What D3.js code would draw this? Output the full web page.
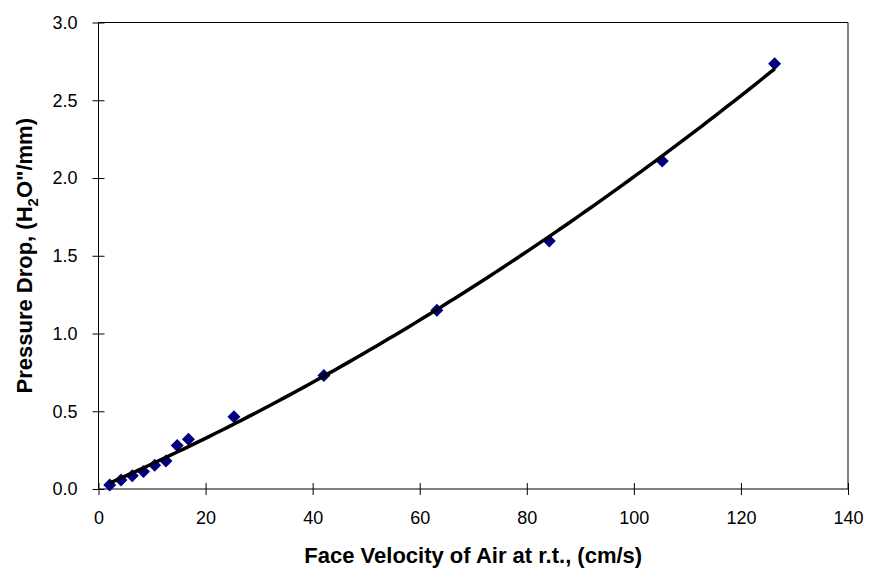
<!DOCTYPE html>
<html>
<head>
<meta charset="utf-8">
<title>Pressure drop vs face velocity</title>
<script src="https://d3js.org/d3.v7.min.js"></script>
<style>
  body { margin: 0; background: #fff; }
  text { font-family: "Liberation Sans", Arial, sans-serif; fill: #000; }
</style>
</head>
<body>
<div id="chart"></div>
<script>
// measured points (face velocity cm/s, pressure drop H2O"/mm)
var velocity = [2.1, 4.2, 6.3, 8.4, 10.5, 12.6, 14.7, 16.8, 25.3, 42.1, 63.2, 84.2, 105.3, 126.3];
var pressure = [0.025, 0.058, 0.085, 0.113, 0.152, 0.18, 0.28, 0.32, 0.465, 0.73, 1.15, 1.595, 2.11, 2.735];

var xTicks = [0, 20, 40, 60, 80, 100, 120, 140];
var yTicks = [0, 0.5, 1.0, 1.5, 2.0, 2.5, 3.0];

var width = 869, height = 571;
var margin = {left: 98.5, right: 21, top: 22.5, bottom: 82};

var svg = d3.select("#chart").append("svg")
  .attr("width", width)
  .attr("height", height);

var x = d3.scaleLinear().domain([0, 140]).range([margin.left, width - margin.right]);
var y = d3.scaleLinear().domain([0, 3]).range([height - margin.bottom, margin.top]);

// plot frame (top and right)
svg.append("path")
  .attr("d", "M" + x(0) + "," + y(3) + "H" + x(140) + "V" + y(0))
  .attr("fill", "none")
  .attr("stroke", "#000")
  .attr("stroke-width", 1);

// x axis with crossing ticks
var xAxis = svg.append("g")
  .attr("transform", "translate(0," + y(0) + ")")
  .call(d3.axisBottom(x).tickValues(xTicks).tickFormat(d3.format("d")).tickSize(6).tickPadding(16));
xAxis.selectAll(".tick line").attr("y1", -6);
xAxis.select(".domain").attr("d", "M" + x(0) + ",0H" + x(140));

var yAxis = svg.append("g")
  .attr("transform", "translate(" + x(0) + ",0)")
  .call(d3.axisLeft(y).tickValues(yTicks).tickFormat(d3.format(".1f")).tickSize(6).tickPadding(15));
yAxis.selectAll(".tick line").attr("x1", 6);
yAxis.select(".domain").attr("d", "M0," + y(0) + "V" + y(3));

svg.selectAll(".tick text")
  .style("font-family", "'Liberation Sans', Arial, sans-serif")
  .style("font-size", "18px")
  .attr("fill", "#000");
svg.selectAll(".domain, .tick line").attr("stroke", "#000");

// markers
var pts = velocity.map(function(v, i) { return [v, pressure[i]]; });
svg.selectAll("path.pt")
  .data(pts)
  .enter()
  .append("path")
    .attr("class", "pt")
    .attr("d", "M0,-6.5L6.5,0L0,6.5L-6.5,0Z")
    .attr("transform", function(d) { return "translate(" + x(d[0]) + "," + y(d[1]) + ")"; })
    .attr("fill", "#000080");

// 2nd order polynomial trendline fitted to the points (least squares)
function polyFit(xs, ys) {
  var s = [0, 0, 0, 0, 0], t = [0, 0, 0];
  xs.forEach(function(v, i) {
    for (var k = 0; k < 5; k++) s[k] += Math.pow(v, k);
    for (var k = 0; k < 3; k++) t[k] += ys[i] * Math.pow(v, k);
  });
  var m = [[s[0], s[1], s[2], t[0]], [s[1], s[2], s[3], t[1]], [s[2], s[3], s[4], t[2]]];
  for (var c = 0; c < 3; c++) {
    for (var r = c + 1; r < 3; r++) {
      var f = m[r][c] / m[c][c];
      for (var k = c; k < 4; k++) m[r][k] -= f * m[c][k];
    }
  }
  var coef = [0, 0, 0];
  for (var r = 2; r >= 0; r--) {
    var sum = m[r][3];
    for (var k = r + 1; k < 3; k++) sum -= m[r][k] * coef[k];
    coef[r] = sum / m[r][r];
  }
  return coef;
}
var coef = polyFit(velocity, pressure);
var xmin = d3.min(velocity), xmax = d3.max(velocity);
var fitPts = d3.range(0, 101).map(function(i) {
  var v = xmin + (xmax - xmin) * i / 100;
  return [v, coef[0] + coef[1] * v + coef[2] * v * v];
});
svg.append("path")
  .datum(fitPts)
  .attr("d", d3.line().x(function(d) { return x(d[0]); }).y(function(d) { return y(d[1]); }))
  .attr("fill", "none")
  .attr("stroke", "#000")
  .attr("stroke-width", 3.5);

// axis titles
svg.append("text")
  .attr("x", (x(0) + x(140)) / 2)
  .attr("y", 563)
  .attr("text-anchor", "middle")
  .style("font-size", "22px")
  .style("font-weight", "bold")
  .text("Face Velocity of Air at r.t., (cm/s)");

var yt = svg.append("text")
  .attr("transform", "translate(32," + (y(0) + y(3)) / 2 + ") rotate(-90)")
  .attr("text-anchor", "middle")
  .style("font-size", "22px")
  .style("font-weight", "bold");
yt.append("tspan").text("Pressure Drop, (H");
yt.append("tspan").attr("dy", 6).style("font-size", "15px").text("2");
yt.append("tspan").attr("dy", -6).text("O\"/mm)");
</script>
</body>
</html>
